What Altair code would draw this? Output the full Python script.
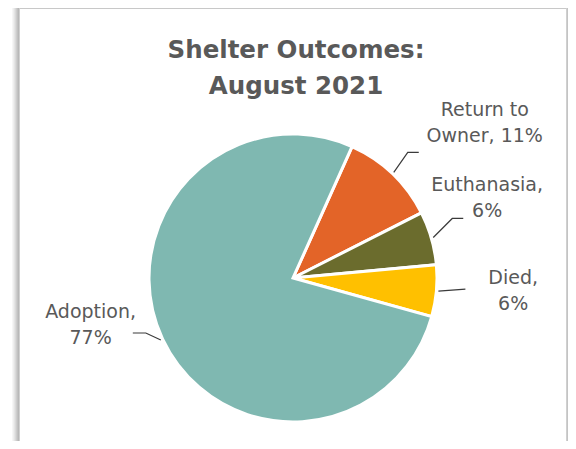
import math
import altair as alt
import pandas as pd

# ---- data ----
categories = ["Return to Owner", "Euthanasia", "Died", "Adoption"]
values = [10.8, 6.0, 5.8, 77.4]
labels = ["Return to\nOwner, 11%", "Euthanasia,\n6%", "Died,\n6%", "Adoption,\n77%"]
colors = ["#E36428", "#6B6C2D", "#FFC000", "#7FB8B1"]
title_lines = ["Shelter Outcomes:", "August 2021"]

# ---- layout / style ----
W, H = 560, 433
CX, CY, R = 285, 270, 144
A0 = math.radians(24.2)
FONT = "DejaVu Sans"
GREY = "#595959"

df = pd.DataFrame({
    "cat": categories,
    "value": values,
    "label": labels,
    "order": list(range(len(categories))),
})

theta = alt.Theta("value:Q", stack=True,
                  scale=alt.Scale(range=[A0, A0 + 2 * math.pi]))
color = alt.Color("cat:N", scale=alt.Scale(domain=categories, range=colors), legend=None)
order = alt.Order("order:Q", sort="ascending")

base = alt.Chart(df)

pie = base.mark_arc(outerRadius=R, stroke="white", strokeWidth=3).encode(
    theta=theta, color=color, order=order,
    x=alt.value(CX), y=alt.value(CY),
)

# label layers: (category, radius, dx, dy)
label_layout = [
    ("Return to Owner", 230, 33, -2),
    ("Euthanasia", 200, 2, -37),
    ("Died", 220, 1, -20),
    ("Adoption", 207, -15, -54),
]
label_layers = []
for cat, rad, dx, dy in label_layout:
    lay = base.transform_calculate(
        lab=f"datum.cat == '{cat}' ? datum.label : ''"
    ).mark_text(
        radius=rad, dx=dx, dy=dy, lineBreak="\n", font=FONT, fontSize=19,
        color=GREY, align="center", baseline="middle", lineHeight=26,
    ).encode(
        theta=theta, order=order, text="lab:N",
        x=alt.value(CX), y=alt.value(CY),
    )
    label_layers.append(lay)

# leader lines, starting at each slice's mid angle on the rim
total = sum(values)
leader_offsets = {
    "Return to Owner": [(0, 0), (14, -20), (25, -20)],
    "Euthanasia": [(0, 0), (19, -19), (30, -19)],
    "Died": [(0, 0), (27, -2), (27, -2)],
    "Adoption": [(0, 0), (-15, -7), (-28, -7)],
}
rows = []
cum = 0.0
for cat, v in zip(categories, values):
    mid = A0 + 2 * math.pi * (cum + v / 2) / total
    cum += v
    sx = CX + (R + 2) * math.sin(mid)
    sy = CY - (R + 2) * math.cos(mid)
    for i, (ox, oy) in enumerate(leader_offsets[cat]):
        rows.append({"cat": cat, "idx": i, "x": sx + ox, "y": sy + oy})
leader_df = pd.DataFrame(rows)
leaders = alt.Chart(leader_df).mark_line(color="#3a3a3a", strokeWidth=1.2).encode(
    x=alt.X("x:Q", scale=None, axis=None),
    y=alt.Y("y:Q", scale=None, axis=None),
    detail="cat:N",
    order="idx:O",
)

title_df = pd.DataFrame({"t": ["\n".join(title_lines)]})
title = alt.Chart(title_df).mark_text(
    font=FONT, fontSize=24.5, fontWeight="bold", color=GREY, align="center",
    baseline="alphabetic", lineBreak="\n", lineHeight=36,
).encode(text="t:N", x=alt.value(288), y=alt.value(50))

# frame with soft shadow
shadow_greys = ["#f6f6f6", "#eeeeee", "#e4e4e4", "#d9d9d9", "#cdcdcd",
                "#c2c2c2", "#b8b8b8", "#d0d0d0"]
frame = []
for i, g in enumerate(shadow_greys):
    frame.append(alt.Chart(title_df).mark_rule(color=g, strokeWidth=1).encode(
        x=alt.value(4.5 + i), y=alt.value(0), y2=alt.value(H)))
frame.append(alt.Chart(title_df).mark_rule(color="#c8c8c8", strokeWidth=1).encode(
    x=alt.value(12), x2=alt.value(558), y=alt.value(0.5)))
for i, g in enumerate(["#d0d0d0", "#c4c4c4"]):
    frame.append(alt.Chart(title_df).mark_rule(color=g, strokeWidth=1).encode(
        x=alt.value(558.5 + i), y=alt.value(0), y2=alt.value(H)))

chart = alt.layer(*frame, pie, leaders, *label_layers, title).properties(
    width=W, height=H, autosize="none", padding=0, background="white",
).configure_view(stroke=None)

chart.save("out.html", embed_options={"renderer": "svg", "actions": False})
